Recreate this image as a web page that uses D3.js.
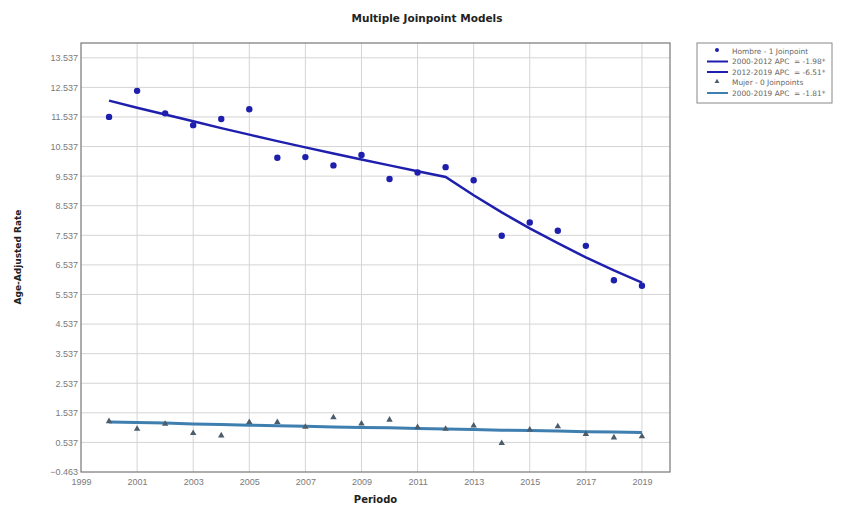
<!DOCTYPE html>
<html>
<head>
<meta charset="utf-8">
<script src="https://cdn.jsdelivr.net/npm/d3@7"></script>
<style>
  html, body { margin: 0; padding: 0; background: #fff; }
  svg { display: block; font-family: "DejaVu Sans", Arial, sans-serif; }
</style>
</head>
<body>
<svg id="chart" width="846" height="505"></svg>
<script>
// Observed and modelled age-adjusted rates by year
const years = [2000, 2001, 2002, 2003, 2004, 2005, 2006, 2007, 2008, 2009,
               2010, 2011, 2012, 2013, 2014, 2015, 2016, 2017, 2018, 2019];
const hombreObs = [11.54, 12.42, 11.66, 11.26, 11.47, 11.80, 10.16, 10.18, 9.90, 10.25,
                   9.44, 9.66, 9.84, 9.40, 7.52, 7.97, 7.69, 7.18, 6.02, 5.83];
const hombreFit = [12.09, 11.85, 11.62, 11.39, 11.16, 10.94, 10.72, 10.51, 10.30, 10.10,
                   9.90, 9.70, 9.51, 8.89, 8.31, 7.77, 7.27, 6.79, 6.35, 5.94];
const mujerObs = [1.25, 0.99, 1.16, 0.85, 0.77, 1.22, 1.22, 1.06, 1.38, 1.17,
                  1.30, 1.05, 0.99, 1.10, 0.51, 0.97, 1.08, 0.82, 0.70, 0.74];
const mujerFit = [1.23, 1.21, 1.19, 1.16, 1.14, 1.12, 1.10, 1.08, 1.06, 1.04,
                  1.03, 1.01, 0.99, 0.97, 0.95, 0.94, 0.92, 0.90, 0.89, 0.87];
const xTicks = [1999, 2001, 2003, 2005, 2007, 2009, 2011, 2013, 2015, 2017, 2019];
const yTicks = [-0.463, 0.537, 1.537, 2.537, 3.537, 4.537, 5.537, 6.537, 7.537,
                8.537, 9.537, 10.537, 11.537, 12.537, 13.537];
const legendLabels = ["Hombre - 1 Joinpoint", "2000-2012 APC  = -1.98*", "2012-2019 APC  = -6.51*",
                      "Mujer - 0 Joinpoints", "2000-2019 APC  = -1.81*"];

const svg = d3.select("#chart");
const plot = { left: 81, right: 670, top: 43, bottom: 472 };

const x = d3.scaleLinear().domain([1999, 2020]).range([plot.left, plot.right]);
const y = d3.scaleLinear().domain([-0.463, 14.037]).range([plot.bottom, plot.top]);

const hColor = "#1f1fae";
const mLine = "#3f7fb0";
const mMark = "#4b5c6b";

// Title
svg.append("text")
  .attr("x", 427).attr("y", 22)
  .attr("text-anchor", "middle")
  .attr("font-size", 10.5).attr("font-weight", "bold").attr("fill", "#222")
  .text("Multiple Joinpoint Models");

// Grid lines
const grid = svg.append("g");
grid.selectAll("line.gy").data(yTicks.slice(1)).join("line")
  .attr("x1", plot.left).attr("x2", plot.right)
  .attr("y1", d => y(d)).attr("y2", d => y(d))
  .attr("stroke", "#d4d4d4").attr("stroke-width", 1);
grid.selectAll("line.gx").data(xTicks.slice(1)).join("line")
  .attr("y1", plot.top).attr("y2", plot.bottom)
  .attr("x1", d => x(d)).attr("x2", d => x(d))
  .attr("stroke", "#d4d4d4").attr("stroke-width", 1);

// Plot frame
svg.append("rect")
  .attr("x", plot.left).attr("y", plot.top)
  .attr("width", plot.right - plot.left).attr("height", plot.bottom - plot.top)
  .attr("fill", "none").attr("stroke", "#777").attr("stroke-width", 1.2);

// Axes
const yAxis = d3.axisLeft(y).tickValues(yTicks).tickSize(0).tickPadding(3)
  .tickFormat(d => d3.format(",.3f")(d));
svg.append("g").attr("transform", `translate(${plot.left},0)`).call(yAxis)
  .call(g => g.select(".domain").remove())
  .call(g => g.selectAll("text").attr("font-size", 9).attr("fill", "#7a7a7a"));

const xAxis = d3.axisBottom(x).tickValues(xTicks).tickSize(0).tickPadding(7)
  .tickFormat(d3.format("d"));
svg.append("g").attr("transform", `translate(0,${plot.bottom})`).call(xAxis)
  .call(g => g.select(".domain").remove())
  .call(g => g.selectAll("text").attr("font-size", 9).attr("fill", "#7a7a7a"));

// Axis titles
svg.append("text")
  .attr("transform", "translate(21,257) rotate(-90)")
  .attr("text-anchor", "middle")
  .attr("font-size", 9).attr("font-weight", "bold").attr("fill", "#222")
  .text("Age-Adjusted Rate");
svg.append("text")
  .attr("x", (plot.left + plot.right) / 2).attr("y", 503)
  .attr("text-anchor", "middle")
  .attr("font-size", 10).attr("font-weight", "bold").attr("fill", "#222")
  .text("Periodo");

const line = d3.line().x((d, i) => x(years[i])).y(d => y(d));

// Mujer: fitted line and observed triangles
svg.append("path").datum(mujerFit)
  .attr("d", line).attr("fill", "none")
  .attr("stroke", mLine).attr("stroke-width", 3);
const tri = d3.symbol().type(d3.symbolTriangle).size(18);
svg.append("g").selectAll("path").data(mujerObs).join("path")
  .attr("transform", (d, i) => `translate(${x(years[i])},${y(d)})`)
  .attr("d", tri).attr("fill", mMark);

// Hombre: fitted joinpoint line and observed points
svg.append("path").datum(hombreFit)
  .attr("d", line).attr("fill", "none")
  .attr("stroke", hColor).attr("stroke-width", 2.5);
svg.append("g").selectAll("circle").data(hombreObs).join("circle")
  .attr("cx", (d, i) => x(years[i])).attr("cy", d => y(d))
  .attr("r", 3.2).attr("fill", hColor);

// Legend
const lg = svg.append("g").attr("transform", "translate(697,43)");
lg.append("rect").attr("width", 135).attr("height", 60)
  .attr("fill", "#fff").attr("stroke", "#888").attr("stroke-width", 1);
const rowY = i => 8 + i * 10.5;
lg.selectAll("text").data(legendLabels).join("text")
  .attr("x", 35).attr("y", (d, i) => rowY(i) + 2.8)
  .attr("font-size", 7.4).attr("fill", "#666")
  .style("white-space", "pre")
  .text(d => d);
lg.append("circle").attr("cx", 20).attr("cy", rowY(0) - 1).attr("r", 2).attr("fill", hColor);
[1, 2].forEach(i => lg.append("line")
  .attr("x1", 10).attr("x2", 31).attr("y1", rowY(i)).attr("y2", rowY(i))
  .attr("stroke", hColor).attr("stroke-width", 2));
lg.append("path").attr("transform", `translate(20,${rowY(3) - 1})`)
  .attr("d", d3.symbol().type(d3.symbolTriangle).size(10)).attr("fill", mMark);
lg.append("line")
  .attr("x1", 10).attr("x2", 31).attr("y1", rowY(4)).attr("y2", rowY(4))
  .attr("stroke", mLine).attr("stroke-width", 2);
</script>
</body>
</html>
